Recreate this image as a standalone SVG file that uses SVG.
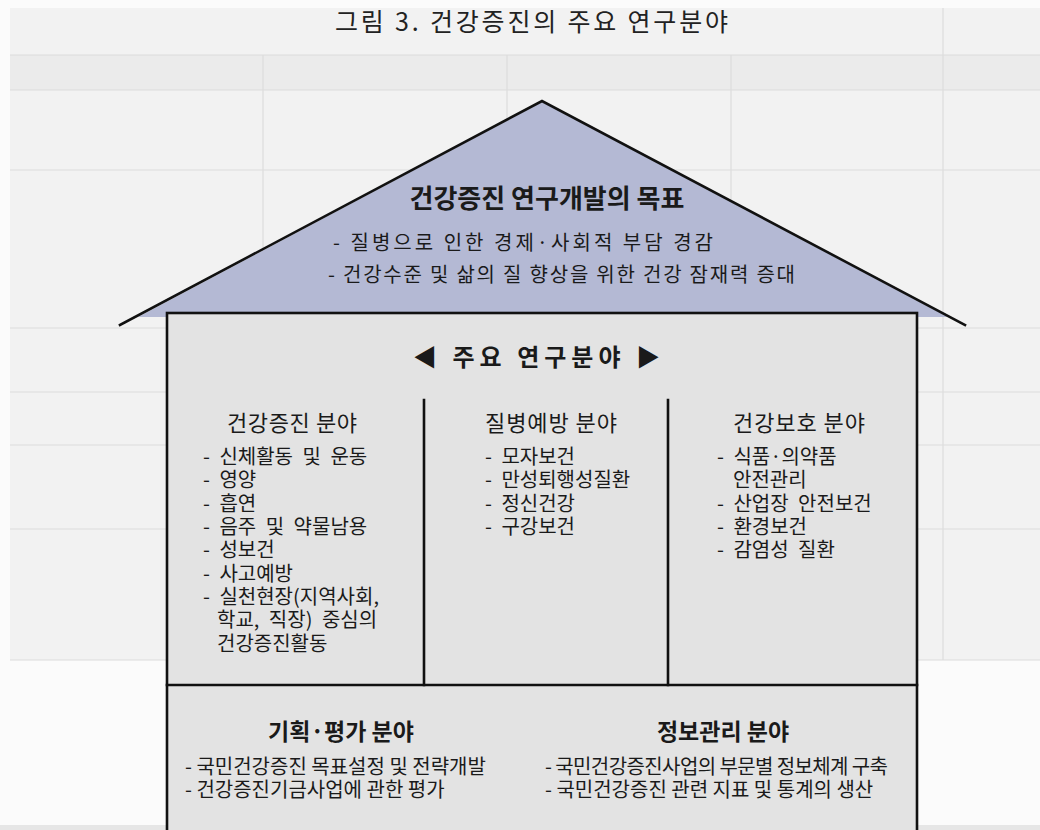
<svg xmlns="http://www.w3.org/2000/svg" width="1040" height="830" viewBox="0 0 1040 830">
  <style>
    .ghost { stroke: #dcdcdc; stroke-width: 1.2; fill: none; }
    .ink { stroke: #111; stroke-width: 2.6; fill: none; stroke-linecap: square; }
    text { font-family: "Noto Sans CJK KR", "Noto Sans", sans-serif; fill: #1a1a1a; }
    .title { font-size: 25px; fill: #222; }
    .goal { font-size: 26px; font-weight: bold; text-anchor: middle; }
    .main { font-size: 24px; font-weight: bold; }
    .head { font-size: 22px; }
    .item { font-size: 20px; word-spacing: 5px; }
    .roofitem { font-size: 20px; }
    .bhead { font-size: 23px; font-weight: bold; text-anchor: middle; }
    .bitem { font-size: 20px; }
  </style>

  <!-- faint background (bleed-through table) -->
  <g id="background">
    <rect x="0" y="0" width="1040" height="830" fill="#fbfbfb"/>
    <rect x="10" y="8" width="1030" height="652" fill="#f2f2f2"/>
    <rect x="10" y="55" width="1030" height="35" fill="#ebebeb"/>
    <path class="ghost" d="M10 55 H1040 M10 90 H1040 M10 170 H1040 M10 328 H1040 M10 392 H1040 M10 445 H1040 M10 529 H1040 M10 660 H1040 M263 55 V660 M507 55 V660 M731 55 V660 M943 8 V660"/>
    <rect x="0" y="825" width="1040" height="5" fill="#e6e6e6"/>
  </g>

  <g id="title">
    <text class="title" x="335" y="31" textLength="393" lengthAdjust="spacing">그림 3. 건강증진의 주요 연구분야</text>
  </g>

  <!-- roof -->
  <g id="roof">
    <polygon points="542,102 138,317 948,317" fill="#b4b9d4"/>
    <polyline class="ink" points="120,325 542,101 965,325"/>
    <text class="goal" x="547" y="208">건강증진 연구개발의 목표</text>
    <text class="roofitem" x="333" y="250" textLength="380" lengthAdjust="spacing">- 질병으로 인한 경제·사회적 부담 경감</text>
    <text class="roofitem" x="328" y="282" textLength="467" lengthAdjust="spacing">- 건강수준 및 삶의 질 향상을 위한 건강 잠재력 증대</text>
  </g>

  <!-- body -->
  <g id="body">
    <rect x="167" y="313" width="750" height="530" fill="#e3e3e3" stroke="#111" stroke-width="2.6"/>
    <text class="main" x="413" y="366" textLength="247" lengthAdjust="spacing">◀ 주요  연구분야 ▶</text>
  </g>

  <!-- connectors / dividers -->
  <g id="connectors">
    <line class="ink" x1="424" y1="400" x2="424" y2="685"/>
    <line class="ink" x1="668" y1="400" x2="668" y2="685"/>
    <line class="ink" x1="167" y1="685" x2="917" y2="685"/>
  </g>

  <g id="health-promotion">
    <text class="head" x="227" y="431" textLength="130" lengthAdjust="spacing">건강증진 분야</text>
    <text class="item" x="203" y="464">
      <tspan x="203" y="464">- 신체활동 및 운동</tspan>
      <tspan x="203" y="487.3">- 영양</tspan>
      <tspan x="203" y="510.6">- 흡연</tspan>
      <tspan x="203" y="534">- 음주 및 약물남용</tspan>
      <tspan x="203" y="557.3">- 성보건</tspan>
      <tspan x="203" y="580.6">- 사고예방</tspan>
      <tspan x="203" y="604">- 실천현장(지역사회,</tspan>
      <tspan x="217" y="627.3">학교, 직장) 중심의</tspan>
      <tspan x="217" y="650.6">건강증진활동</tspan>
    </text>
  </g>

  <g id="disease-prevention">
    <text class="head" x="485" y="431" textLength="132" lengthAdjust="spacing">질병예방 분야</text>
    <text class="item" x="485" y="464">
      <tspan x="485" y="464">- 모자보건</tspan>
      <tspan x="485" y="487.3">- 만성퇴행성질환</tspan>
      <tspan x="485" y="510.6">- 정신건강</tspan>
      <tspan x="485" y="534">- 구강보건</tspan>
    </text>
  </g>

  <g id="health-protection">
    <text class="head" x="733" y="431" textLength="132" lengthAdjust="spacing">건강보호 분야</text>
    <text class="item" x="717" y="464">
      <tspan x="717" y="464">- 식품·의약품</tspan>
      <tspan x="733" y="487.3">안전관리</tspan>
      <tspan x="717" y="510.6">- 산업장 안전보건</tspan>
      <tspan x="717" y="534">- 환경보건</tspan>
      <tspan x="717" y="557.3">- 감염성 질환</tspan>
    </text>
  </g>

  <g id="planning-evaluation">
    <text class="bhead" x="341" y="740">기획·평가 분야</text>
    <text class="bitem" x="185" y="774">
      <tspan x="185" y="774">- 국민건강증진 목표설정 및 전략개발</tspan>
      <tspan x="185" y="797">- 건강증진기금사업에 관한 평가</tspan>
    </text>
  </g>

  <g id="information-management">
    <text class="bhead" x="723" y="740">정보관리 분야</text>
    <text class="bitem" x="545" y="774">
      <tspan x="545" y="774" textLength="343" lengthAdjust="spacing">- 국민건강증진사업의 부문별 정보체계 구축</tspan>
      <tspan x="545" y="797">- 국민건강증진 관련 지표 및 통계의 생산</tspan>
    </text>
  </g>
</svg>
